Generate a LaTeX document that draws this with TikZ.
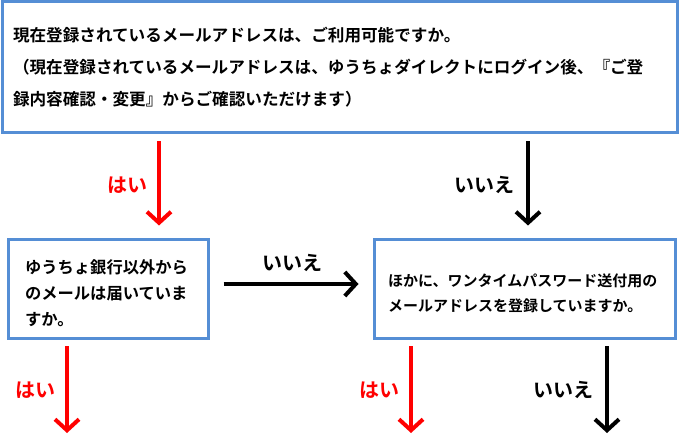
\documentclass[tikz,border=0pt]{standalone}
\usepackage{fontspec}
\setmainfont{Noto Sans CJK JP}[BoldFont={Noto Sans CJK JP Bold}]
\usetikzlibrary{arrows.meta,calc}
\definecolor{boxblue}{RGB}{85,142,213}
\definecolor{yesred}{RGB}{255,0,0}
\begin{document}
\begin{tikzpicture}[x=1pt,y=-1pt,
  qbox/.style={draw=boxblue,line width=3pt,fill=white,align=left,inner ysep=0pt,font=\bfseries},
  arr/.style={line width=4pt,-{Straight Barb[length=11pt,width=24pt]}},
  yesarr/.style={arr,draw=yesred},
  noarr/.style={arr,draw=black},
  yeslbl/.style={text=yesred,font=\bfseries\fontsize{20}{24}\selectfont,inner sep=0pt},
  nolbl/.style={text=black,font=\bfseries\fontsize{20}{24}\selectfont,inner sep=0pt}]
\useasboundingbox (0,0) rectangle (680,435);
\fill[white] (0,0) rectangle (680,435);

\node[qbox,minimum width=675pt,minimum height=131pt,text width=653pt,inner xsep=11pt,
  font=\bfseries\fontsize{16.6}{32}\selectfont] (top) at (339.5,67.5)
  {現在登録されているメールアドレスは、ご利用可能ですか。\\
   （現在登録されているメールアドレスは、ゆうちょダイレクトにログイン後、『ご登\\
   録内容確認・変更』からご確認いただけます）};

\node[qbox,minimum width=200pt,minimum height=99pt,text width=166pt,inner xsep=17pt,
  font=\bfseries\fontsize{16.3}{26}\selectfont] (left) at (108,289.5)
  {\rule{0pt}{22pt}ゆうちょ銀行以外から\\のメールは届いていま\\すか。};

\node[qbox,minimum width=301pt,minimum height=99pt,text width=273pt,inner xsep=14pt,
  font=\bfseries\fontsize{15}{25}\selectfont] (right) at (524.5,289.5)
  {\rule{0pt}{20pt}ほかに、ワンタイムパスワード送付用の\\メールアドレスを登録していますか。};

\coordinate (x1) at (159,0);
\coordinate (x2) at (528,0);
\coordinate (e1) at (67,433);
\coordinate (e2) at (411,433);
\coordinate (e3) at (607,433);

\draw[yesarr,shorten <=7pt,shorten >=13pt] (top.south -| x1) -- (left.north -| x1);
\draw[noarr,shorten <=7pt,shorten >=13pt] (top.south -| x2) -- (right.north -| x2);
\draw[noarr] ($(left.east)+(14,-5.5)$) -- ($(right.west)+(-14,-5.5)$);
\draw[yesarr,shorten <=6pt] (left.south -| e1) -- (e1);
\draw[yesarr,shorten <=6pt] (right.south -| e2) -- (e2);
\draw[noarr,shorten <=6pt] (right.south -| e3) -- (e3);

\node[yeslbl] (l1) at (127,185) {はい};
\node[nolbl] (l2) at (484,185) {いいえ};
\node[nolbl] (l3) at (292,263) {いいえ};
\node[yeslbl] (l4) at (36,390) {はい};
\node[yeslbl] (l5) at (379,390) {はい};
\node[nolbl] (l6) at (563,390) {いいえ};
\end{tikzpicture}
\end{document}
